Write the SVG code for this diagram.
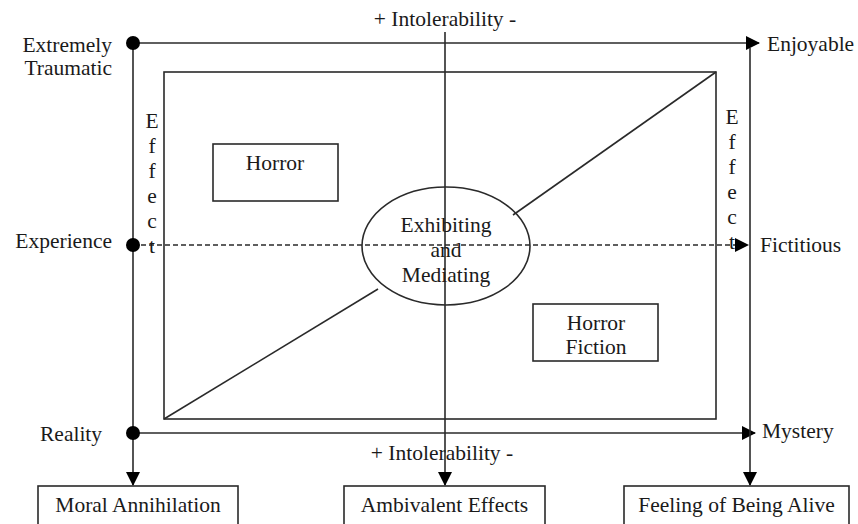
<svg xmlns="http://www.w3.org/2000/svg" width="858" height="524" viewBox="0 0 858 524">
<defs>
<style>
text{font-family:'Liberation Serif','Times New Roman',serif;font-size:21.5px;fill:#1a1a1a}
.c{text-anchor:middle}
.e{text-anchor:end}
.ln{stroke:#2a2a2a;stroke-width:1.6;fill:none}
.bx{stroke:#2a2a2a;stroke-width:1.6;fill:#fff}
.dot{fill:#000}
</style>
<marker id="ar" viewBox="0 0 14 14" refX="13" refY="7" markerWidth="14" markerHeight="14" markerUnits="userSpaceOnUse" orient="auto">
<path d="M0,0 L14,7 L0,14 Z" fill="#000"/>
</marker>
</defs>
<rect width="858" height="524" fill="#fff"/>
<g id="frame">
<rect class="ln" x="164" y="72" width="552" height="347"/>
</g>
<g id="connectors">
<line class="ln" x1="164" y1="419" x2="378" y2="289"/>
<line class="ln" x1="513" y1="215" x2="716" y2="72"/>
<line class="ln" x1="133" y1="43" x2="759" y2="43" marker-end="url(#ar)"/>
<line class="ln" x1="133" y1="245" x2="748" y2="245" stroke-dasharray="5,3" marker-end="url(#ar)"/>
<line class="ln" x1="133" y1="433" x2="755" y2="433" marker-end="url(#ar)"/>
<line class="ln" x1="133" y1="43" x2="133" y2="485" marker-end="url(#ar)"/>
<line class="ln" x1="445" y1="32" x2="445" y2="485" marker-end="url(#ar)"/>
<line class="ln" x1="750" y1="48" x2="750" y2="485" marker-end="url(#ar)"/>
<circle class="dot" cx="133" cy="43" r="7"/>
<circle class="dot" cx="133" cy="245" r="7"/>
<circle class="dot" cx="133" cy="433" r="7"/>
</g>
<g id="labels">
<text class="c" x="445" y="26">+ Intolerability -</text>
<text class="c" x="442" y="460">+ Intolerability -</text>
<text class="e" x="112" y="52">Extremely</text>
<text class="e" x="112" y="75">Traumatic</text>
<text class="e" x="112" y="248">Experience</text>
<text x="40" y="441">Reality</text>
<text x="767" y="51">Enjoyable</text>
<text x="760" y="252">Fictitious</text>
<text x="762" y="438">Mystery</text>
</g>
<g id="effect-left">
<text class="c" x="152" y="128">E</text>
<text class="c" x="152" y="153">f</text>
<text class="c" x="152" y="178">f</text>
<text class="c" x="152" y="203">e</text>
<text class="c" x="152" y="228">c</text>
<text class="c" x="152" y="253">t</text>
</g>
<g id="effect-right">
<text class="c" x="732" y="124">E</text>
<text class="c" x="732" y="149">f</text>
<text class="c" x="732" y="174">f</text>
<text class="c" x="732" y="199">e</text>
<text class="c" x="732" y="224">c</text>
<text class="c" x="732" y="249">t</text>
</g>
<g id="horror">
<rect class="bx" x="213" y="144" width="125" height="57"/>
<text class="c" x="275" y="170">Horror</text>
</g>
<g id="horror-fiction">
<rect class="bx" x="533" y="304" width="125" height="57"/>
<text class="c" x="596" y="330">Horror</text>
<text class="c" x="596" y="354">Fiction</text>
</g>
<g id="exhibiting">
<ellipse class="ln" cx="446" cy="246" rx="84" ry="59"/>
<text class="c" x="446" y="232">Exhibiting</text>
<text class="c" x="446" y="257">and</text>
<text class="c" x="446" y="282">Mediating</text>
</g>
<g id="moral">
<rect class="bx" x="38" y="486" width="200" height="50"/>
<text class="c" x="138" y="512">Moral Annihilation</text>
</g>
<g id="ambivalent">
<rect class="bx" x="344" y="486" width="201" height="50"/>
<text class="c" x="444.5" y="512">Ambivalent Effects</text>
</g>
<g id="feeling">
<rect class="bx" x="624" y="486" width="225" height="50"/>
<text class="c" x="736.5" y="512">Feeling of Being Alive</text>
</g>
</svg>
